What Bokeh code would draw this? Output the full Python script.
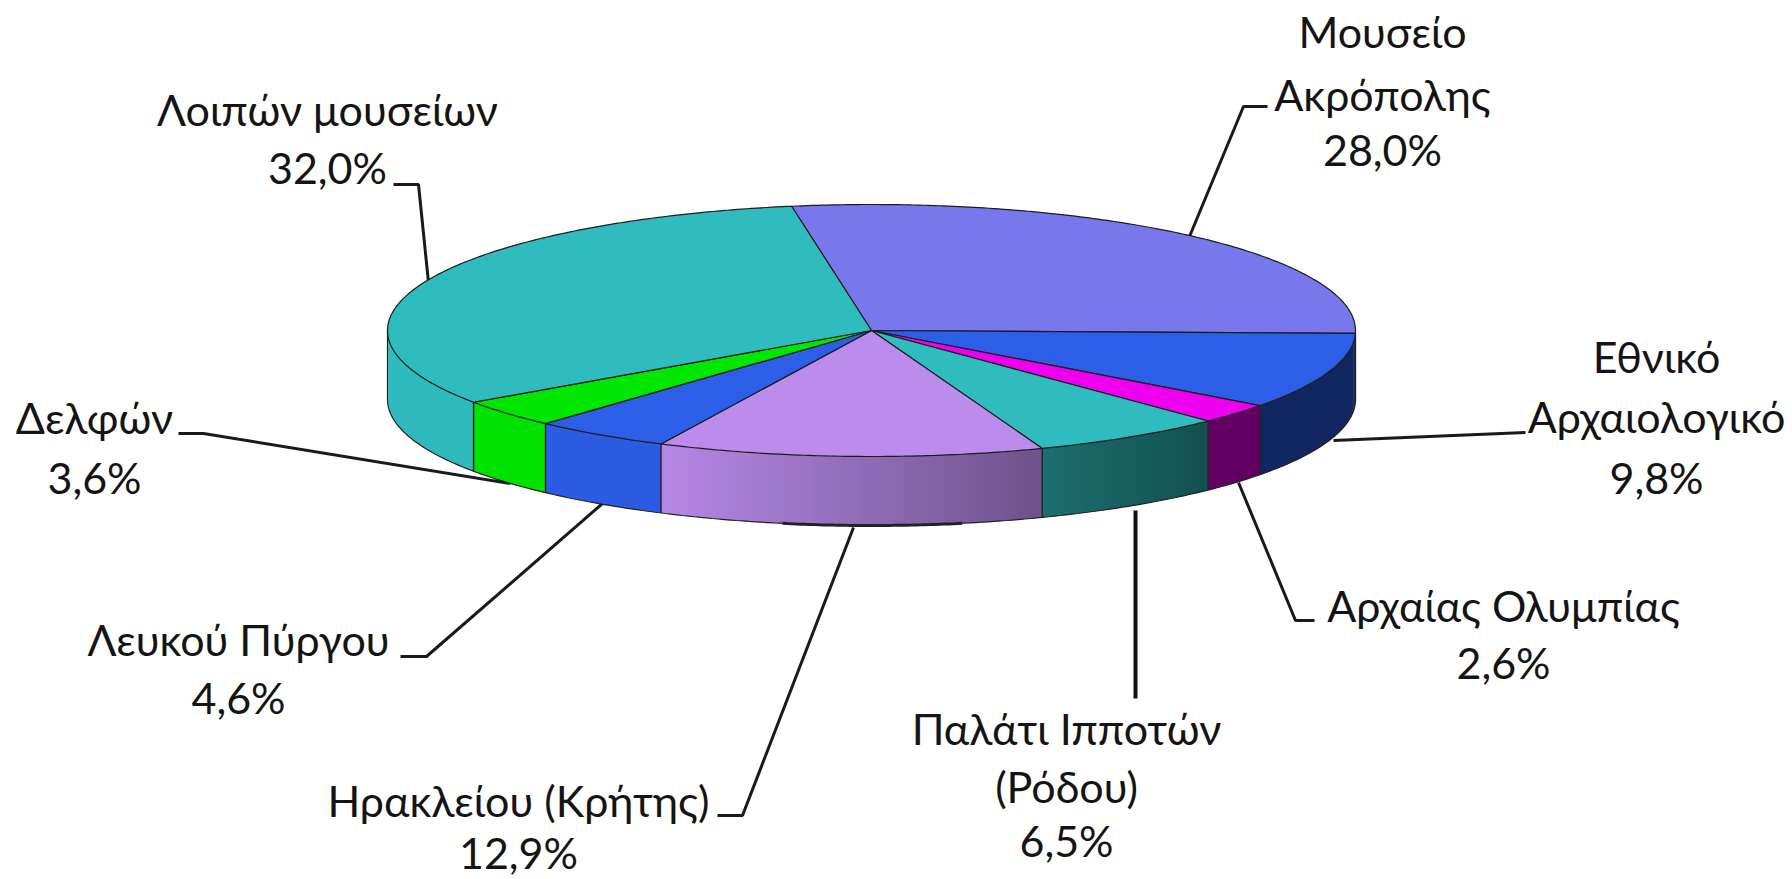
import numpy as np
from bokeh.plotting import figure
from bokeh.models import ColumnDataSource
from bokeh.core.properties import value
from bokeh.embed import file_html
from bokeh.resources import INLINE

# ---- data ----
categories = ["Μουσείο Ακρόπολης", "Εθνικό Αρχαιολογικό", "Αρχαίας Ολυμπίας", "Παλάτι Ιπποτών (Ρόδου)",
              "Ηρακλείου (Κρήτης)", "Λευκού Πύργου", "Δελφών", "Λοιπών μουσείων"]
shares = [28.0, 9.8, 2.6, 6.5, 12.9, 4.6, 3.6, 32.0]
share_labels = ["28,0%", "9,8%", "2,6%", "6,5%", "12,9%", "4,6%", "3,6%", "32,0%"]
label_lines = [["Μουσείο", "Ακρόπολης"], ["Εθνικό", "Αρχαιολογικό"], ["Αρχαίας Ολυμπίας"], ["Παλάτι Ιπποτών", "(Ρόδου)"],
               ["Ηρακλείου (Κρήτης)"], ["Λευκού Πύργου"], ["Δελφών"], ["Λοιπών μουσείων"]]
top_colors = ["#7878ec", "#2d5ee8", "#ee00ee", "#30bcbe", "#bb8cec", "#2d5ee8", "#00e600", "#30bcbe"]

# ---- layout (page pixels) ----
CX, CY, RX, RY, DEPTH = 871, 330, 484, 126, 69
START_DEG = -9.5
FONT = "Lato"
FS = "43px"
label_x = [1382, 1656, 1503, 1066, 518, 238, 94, 327]
label_y = [[31, 94, 149], [356, 416, 477], [605, 662], [728, 786, 840], [800, 852], [639, 697], [417, 477], [109, 167]]
leaders = [
    ([1267, 1243, 1189], [106, 106, 236]),
    ([1525, 1333], [432, 440]),
    ([1314, 1295, 1238], [620, 620, 482]),
    ([717, 742, 853], [815, 815, 527]),
    ([400, 426, 602], [656, 656, 503]),
    ([178, 203, 510], [433, 433, 483]),
    ([393, 418, 428], [184, 184, 282]),
]
vertical_leader = ([1135, 1135], [698, 510])

def pt(deg, dy=0.0):
    a = np.radians(deg)
    return CX + RX * np.sin(a), CY - RY * np.cos(a) + dy

def shade(x):
    if x <= 663:
        return 1.0 - 0.03 * (x - 387) / 276
    if x >= 1210:
        return 0.42
    return 0.97 - 0.55 * (x - 663) / 547

def rgb(hexc, m):
    c = [int(hexc[i:i + 2], 16) for i in (1, 3, 5)]
    return "#%02x%02x%02x" % tuple(int(v * m) for v in c)

p = figure(width=1792, height=879, x_range=(0, 1792), y_range=(879, 0), output_backend="svg",
           toolbar_location=None, min_border=0, x_axis_location=None, y_axis_location=None,
           outline_line_color=None, background_fill_color="white", border_fill_color="white")
p.grid.visible = False

# leader lines (under the pie)
p.multi_line([l[0] for l in leaders], [l[1] for l in leaders], line_color="#1a1a1a", line_width=3)
p.line(vertical_leader[0], vertical_leader[1], line_color="#111111", line_width=4)

edges = START_DEG + np.cumsum([0] + [s * 3.6 for s in shares])

# side wall strips, each overlapping the next so no seams show
xs, ys, cols, sep_x, sep_y = [], [], [], [], []
for i, col in enumerate(top_colors):
    a0, a1 = max(edges[i], 90), min(edges[i + 1], 270)
    if a1 <= a0:
        continue
    n = max(2, int((a1 - a0) / 0.7))
    grid = np.linspace(a0, a1, n + 1)
    for g0, g1 in zip(grid[:-1], grid[1:]):
        x0, y0 = pt(g0)
        x1, y1 = pt(min(g1 + 0.6, a1))
        xs.append([x0, x1, x1, x0])
        ys.append([y0, y1, y1 + DEPTH, y0 + DEPTH])
        cols.append(rgb(col, shade((x0 + x1) / 2)))
    if 90 < a0 < 270:
        x0, y0 = pt(a0)
        sep_x.append([x0, x0])
        sep_y.append([y0, y0 + DEPTH])
p.patches(xs, ys, fill_color=cols, line_color=None)
p.multi_line(sep_x, sep_y, line_color="#222222", line_width=1.4)

# bottom edge of the wall and the left/right verticals
g = np.linspace(90, 270, 240)
bx, by = pt(g, DEPTH)
lx, ly = pt(270)
rx, ry = pt(90)
p.line(np.r_[rx, bx, lx], np.r_[ry, by, ly], line_color="#222222", line_width=1.2)
g2 = np.linspace(169.2, 190.6, 40)
sx, sy = pt(g2, DEPTH)
p.line(sx, sy, line_color="#222222", line_width=3)

# top face wedges
wx, wy = [], []
for i in range(len(shares)):
    g = np.linspace(edges[i], edges[i + 1], max(3, int(shares[i] * 6)))
    ex, ey = pt(g)
    wx.append(np.r_[CX, ex])
    wy.append(np.r_[CY, ey])
p.patches(wx, wy, fill_color=top_colors, line_color="#1c1c1c", line_width=1.2, line_join="round")

# labels
tx, ty, tt = [], [], []
for i in range(len(categories)):
    lines = label_lines[i] + [share_labels[i]]
    for t, y in zip(lines, label_y[i]):
        tx.append(label_x[i]); ty.append(y); tt.append(t)
src = ColumnDataSource(dict(x=tx, y=ty, t=tt))
p.text("x", "y", text="t", source=src, text_font=value(FONT), text_font_size=FS, text_align="center",
       text_baseline="middle", text_color="#141414")

open("out.html", "w").write(file_html(p, INLINE))
